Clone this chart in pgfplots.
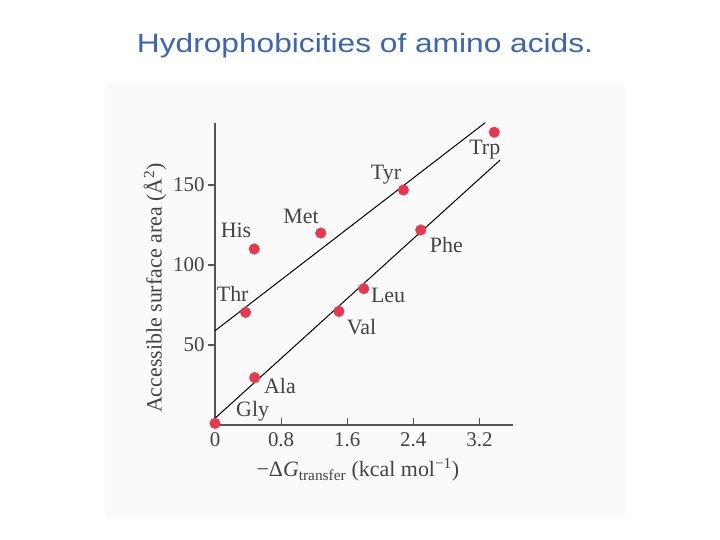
\documentclass[border=0pt]{standalone}
\usepackage{pgfplots}
\pgfplotsset{compat=1.18}
\usepackage{fontspec}
\setmainfont{Liberation Serif}
\newfontfamily\titlefont{Liberation Sans}

\definecolor{scan}{HTML}{FAFAFA}
\definecolor{ink}{HTML}{434343}
\definecolor{axisgray}{HTML}{555555}
\definecolor{dotred}{HTML}{E8384F}
\definecolor{titleblue}{HTML}{3D64B4}

\begin{document}
\begin{tikzpicture}
\useasboundingbox (0,0) rectangle (720bp,540bp);
\fill[white] (0,0) rectangle (720bp,540bp);
\fill[scan] (105bp,23bp) rectangle (625bp,458bp);

\node[anchor=base, text=titleblue, inner sep=0pt, font=\titlefont\fontsize{26.5}{30}\selectfont]
  at (365bp,487bp) {\scalebox{1.2}[1]{Hydrophobicities of amino acids.}};

\begin{axis}[
    at={(215bp,115bp)}, anchor=south west,
    scale only axis,
    width=298.3bp, height=301.7bp,
    xmin=0, xmax=3.61, ymin=0, ymax=188.6,
    axis x line*=bottom, axis y line*=left,
    axis line style={axisgray, line width=1.3bp},
    xtick={0,0.8,1.6,2.4,3.2},
    ytick={50,100,150},
    xticklabels={0,0.8,1.6,2.4,3.2},
    tick align=inside,
    major tick length=7bp,
    tick style={axisgray, line width=1.2bp},
    y tick style={xshift=-7bp},
    yticklabel style={xshift=-7bp},
    xticklabel style={yshift=-4bp},
    ticklabel style={text=ink, font=\fontsize{21}{25}\selectfont},
    /pgf/number format/assume math mode=true,
    xlabel={−Δ\textit{G}\textsubscript{transfer} (kcal mol\textsuperscript{−1})},
    ylabel={Accessible surface area (Å\textsuperscript{2})},
    label style={text=ink, font=\fontsize{22}{26}\selectfont},
    x label style={at={(axis description cs:0.479,-0.149)}, anchor=center},
    y label style={at={(axis description cs:-0.201,0.454)}, anchor=center, rotate=0},
    clip=false,
]

% fitted lines
\addplot[black, line width=1bp] coordinates {(0,58.9) (3.27,189)};
\addplot[black, line width=1bp] coordinates {(0,4.2) (3.45,165.6)};

% amino acids
\addplot[only marks, mark=*, mark size=5.3bp, color=dotred, mark options={draw=dotred, fill=dotred}]
  coordinates {
    (0,1) (0.48,29.6) (0.37,70.4) (0.475,110) (1.28,120)
    (1.50,71) (1.80,85.2) (2.28,146.9) (2.49,121.9) (3.38,183)
  };

\begin{scope}[every node/.style={text=ink, font=\fontsize{22}{26}\selectfont, inner sep=0pt}]
\node at (axis cs:0.456,8.3) {Gly};
\node at (axis cs:0.786,24.4) {Ala};
\node at (axis cs:0.214,81.7) {Thr};
\node at (axis cs:0.254,121.9) {His};
\node at (axis cs:1.04,130.6) {Met};
\node at (axis cs:1.774,61.1) {Val};
\node at (axis cs:2.095,81.25) {Leu};
\node at (axis cs:2.07,156.7) {Tyr};
\node at (axis cs:2.80,112.5) {Phe};
\node at (axis cs:3.265,171.9) {Trp};
\end{scope}

\end{axis}
\end{tikzpicture}
\end{document}
